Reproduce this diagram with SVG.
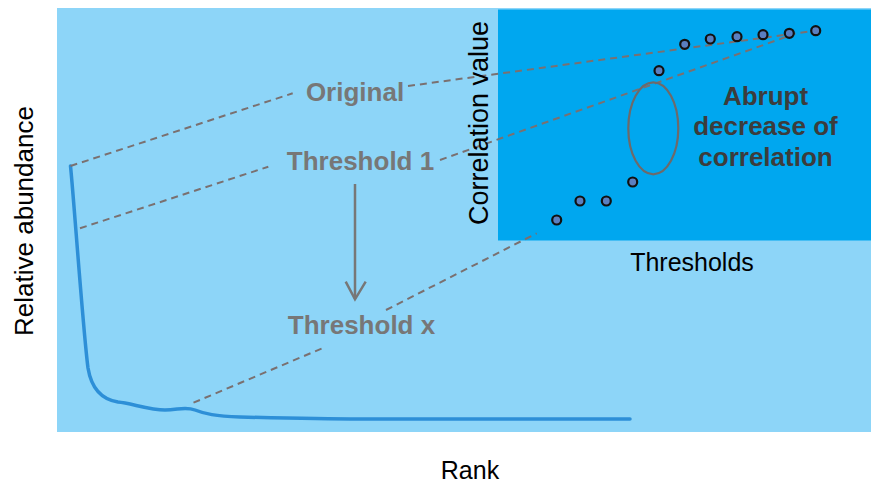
<svg xmlns="http://www.w3.org/2000/svg" width="871" height="483" viewBox="0 0 871 483">
<style>
.lbl{font-family:"Liberation Sans",Arial,sans-serif;font-weight:bold;font-size:26px;fill:#777777;text-anchor:middle}
.ax{font-family:"Liberation Sans",Arial,sans-serif;font-size:24px;fill:#000;text-anchor:middle}
.abr{font-family:"Liberation Sans",Arial,sans-serif;font-weight:bold;font-size:26px;fill:#3c3c3c;text-anchor:middle}
.dash{fill:none;stroke:#7a7070;stroke-width:2;stroke-dasharray:7 5}
.dot{fill:#5a7fc0;stroke:#111;stroke-width:2.2}
</style>
<rect width="871" height="483" fill="#fff"/>
<g id="plot-bg"><rect x="57" y="8" width="814" height="424" fill="#8dd5f8"/></g>
<g id="inset"><rect x="498" y="9.5" width="373" height="231" fill="#00a7ef"/></g>
<g id="curve"><path d="M70.5,166 C74,200 83,330 88,368 C92,392 105,400 118,402 C130,403 150,410 165,410 C178,410 185,406 195,410 C205,414 215,416 240,417 C280,418 320,419 360,419 L630,419" fill="none" stroke="#2d8fd7" stroke-width="3.5" stroke-linecap="round"/></g>
<g id="connectors">
<path class="dash" d="M70.5,166 L292.7,93.3"/>
<path class="dash" d="M408,86 L815.7,30.7"/>
<path class="dash" d="M80,228.3 L268.3,166.7"/>
<path class="dash" d="M440,160 L786.7,36.7"/>
<path class="dash" d="M193.5,402.7 L323.6,347.7"/>
<path class="dash" d="M386,310 L536.7,233.3"/>
<path d="M355,184 L355,299" fill="none" stroke="#777777" stroke-width="2.5"/>
<path d="M345.7,281.7 L355,299.3 L365.7,281.7" fill="none" stroke="#777777" stroke-width="2.5"/>
</g>
<g id="dots">
<circle class="dot" cx="556.7" cy="220" r="4.5"/>
<circle class="dot" cx="580" cy="201" r="4.5"/>
<circle class="dot" cx="606.3" cy="201" r="4.5"/>
<circle class="dot" cx="632.7" cy="182" r="4.5"/>
<circle class="dot" cx="659" cy="70.7" r="4.5"/>
<circle class="dot" cx="684.7" cy="44.3" r="4.5"/>
<circle class="dot" cx="710.3" cy="39" r="4.5"/>
<circle class="dot" cx="737" cy="36.7" r="4.5"/>
<circle class="dot" cx="763" cy="34.7" r="4.5"/>
<circle class="dot" cx="789.3" cy="33.3" r="4.5"/>
<circle class="dot" cx="815.7" cy="30.7" r="4.5"/>
</g>
<g id="ellipse"><ellipse cx="653.3" cy="128.3" rx="25" ry="46" fill="none" stroke="#6d6a6a" stroke-width="2.2"/></g>
<g id="label-original"><text class="lbl" x="355" y="101">Original</text></g>
<g id="label-threshold1"><text class="lbl" x="360.5" y="170">Threshold 1</text></g>
<g id="label-thresholdx"><text class="lbl" x="361.5" y="334">Threshold x</text></g>
<g id="label-abrupt">
<text class="abr" x="765.5" y="105">Abrupt</text>
<text class="abr" x="765.5" y="135">decrease of</text>
<text class="abr" x="765.5" y="165.5">correlation</text>
</g>
<g id="axis-labels">
<text class="ax" x="470" y="479" style="font-size:25px">Rank</text>
<text class="ax" x="692" y="271" style="font-size:25px">Thresholds</text>
<text class="ax" transform="translate(33,221) rotate(-90)" style="font-size:26px">Relative abundance</text>
<text class="ax" transform="translate(488,123) rotate(-90)" style="font-size:27px">Correlation value</text>
</g>
</svg>
